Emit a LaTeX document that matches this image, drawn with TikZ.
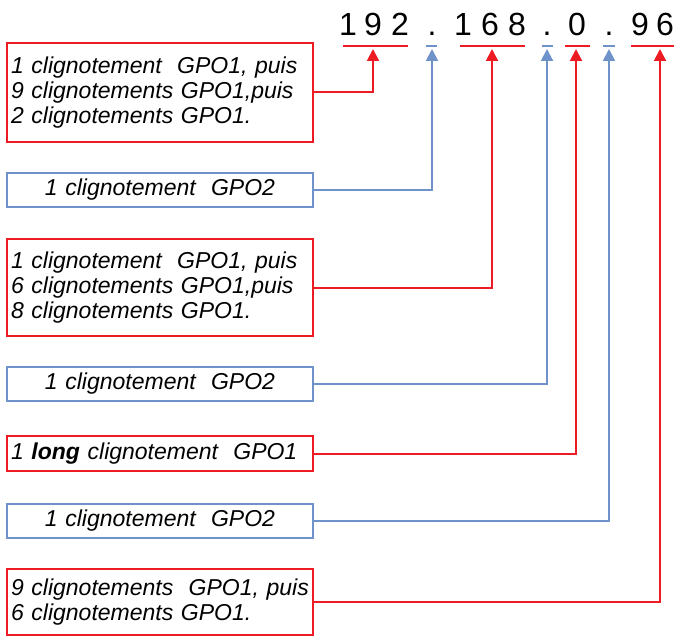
\documentclass[tikz,border=0pt]{standalone}
\usepackage{fontspec}
\setmainfont{Liberation Sans}
\usetikzlibrary{arrows.meta}
\definecolor{ledred}{RGB}{237,28,36}
\definecolor{ledblue}{RGB}{112,146,203}
\tikzset{
  blinkbox/.style={line width=2pt, anchor=north west, minimum width=306pt,
    text width=298pt, inner xsep=4pt, inner ysep=3pt, font=\fontsize{23}{25}\selectfont\itshape},
  gpoone/.style={blinkbox, draw=ledred, align=left},
  gpotwo/.style={blinkbox, draw=ledblue, align=center, minimum height=34pt},
  digit/.style={anchor=base, inner sep=0pt, font=\fontsize{32}{32}\selectfont},
}

\begin{document}
\begin{tikzpicture}[x=1pt, y=-1pt, line width=2pt, >={Triangle[length=12pt,width=12pt]}]
    \useasboundingbox (0,0) rectangle (684,636);
    % IP address
    \foreach \c/\x [count=\i] in {1/348,9/373,2/400,./432,1/463,6/490,8/517,./547,0/577,./609,9/640,6/665}
        \node[digit] (d\i) at (\x,36) {\c};
    % underlines
    \draw[ledred] (343,46) -- (408,46) (460,46) -- (525,46) (565,46) -- (590,46) (631,46) -- (674,46);
    \draw[ledblue] (426,46) -- (437,46) (542,46) -- (553,46) (603,46) -- (615,46);
    \coordinate (t1) at (373,49);
    \coordinate (t2) at (432,49);
    \coordinate (t3) at (492,49);
    \coordinate (t4) at (547,49);
    \coordinate (t5) at (576,49);
    \coordinate (t6) at (609,49);
    \coordinate (t7) at (660,49);
    % boxes
    \node[gpoone, minimum height=99pt] (b1) at (6,42)
        {1 clignotement\ \ GPO1, puis\\9 clignotements GPO1,puis\\2 clignotements GPO1.};
    \node[gpotwo] (b2) at (6,172) {1 clignotement\ \ GPO2};
    \node[gpoone, minimum height=97pt] (b3) at (6,238)
        {1 clignotement\ \ GPO1, puis\\6 clignotements GPO1,puis\\8 clignotements GPO1.};
    \node[gpotwo] (b4) at (6,366) {1 clignotement\ \ GPO2};
    \node[gpoone, minimum height=35pt] (b5) at (6,435) {1 \textbf{long} clignotement\ \ GPO1};
    \node[gpotwo] (b6) at (6,503) {1 clignotement\ \ GPO2};
    \node[gpoone, minimum height=66pt] (b7) at (6,568)
        {9 clignotements\ \ GPO1, puis\\6 clignotements GPO1.};
    % connectors
    \draw[ledred,->] (b1.east) -| (t1);
    \draw[ledblue,->] (b2.east) -| (t2);
    \draw[ledred,->] (b3.east) -| (t3);
    \draw[ledblue,->] (b4.east) -| (t4);
    \draw[ledred,->] (b5.east) -| (t5);
    \draw[ledblue,->] (b6.east) -| (t6);
    \draw[ledred,->] (b7.east) -| (t7);
\end{tikzpicture}
\end{document}
